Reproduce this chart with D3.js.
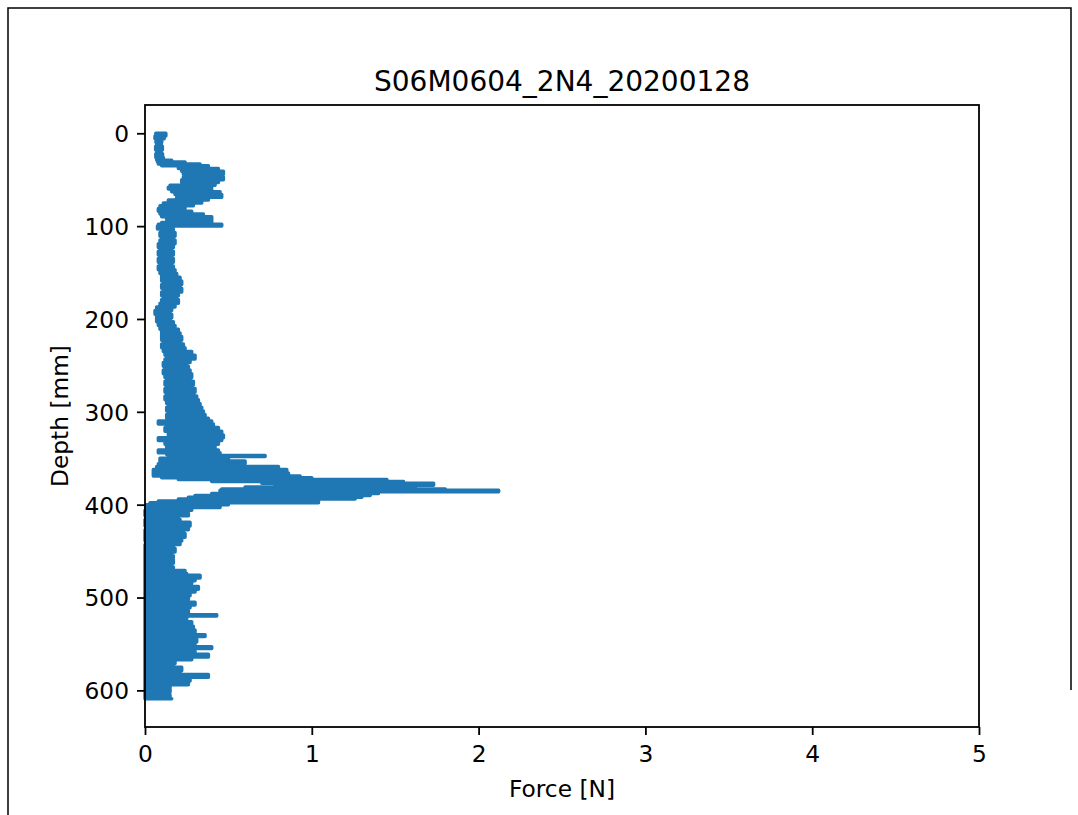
<!DOCTYPE html>
<html>
<head>
<meta charset="utf-8">
<script src="https://cdn.jsdelivr.net/npm/d3@7"></script>
<style>
  body { margin: 0; background: #fff; }
  text { font-family: "DejaVu Sans", sans-serif; fill: #000; }
</style>
</head>
<body>
<svg width="1078" height="815"></svg>
<script>
var title = "S06M0604_2N4_20200128";
var xTicks = [0, 1, 2, 3, 4, 5];
var yTicks = [0, 100, 200, 300, 400, 500, 600];

// force envelope: depth [mm], min and max force [N]
var depth = [
  0, 3, 6, 10, 14, 18, 22, 26, 29, 31, 33, 35, 38, 41, 44, 47, 50, 53, 56, 58,
  60, 63, 66, 69, 72, 75, 78, 81, 84, 87, 90, 93, 96, 98, 100,
  103, 107, 111, 115, 119, 123, 127, 131, 135, 139, 143, 147, 151, 155, 159, 163, 167, 171, 175, 179,
  183, 187, 191, 195, 199, 203, 207, 211, 215, 219, 223, 227, 231, 235, 239, 243, 247, 251, 255, 259,
  263, 267, 271, 275, 279, 283, 287, 291, 295, 299, 303, 307, 310, 313, 317, 321, 325, 328, 331, 335,
  339, 341, 344, 346, 347, 348, 350, 353, 356, 359, 362, 366, 369, 371, 373, 375, 377, 379, 381, 383,
  384.5, 386, 388, 390, 392, 394, 396, 398, 400,
  403, 406, 409, 412, 416, 419, 423, 427, 431, 435, 439, 443, 447, 451, 455, 457, 459, 463, 467, 469,
  471, 474, 476, 479, 482, 485, 488, 491, 494, 498, 502, 505, 508, 511, 514, 517, 518.5, 520, 523, 526,
  529, 531, 535, 538, 540, 542, 545, 548, 551, 553, 555, 558, 561, 564, 567, 571, 575, 579, 583, 586,
  590, 594, 598, 602, 605, 609
];
var forceMin = [
  0.065, 0.060, 0.066, 0.070, 0.064, 0.070, 0.065, 0.070, 0.075, 0.080, 0.100, 0.200, 0.220, 0.230, 0.240, 0.230, 0.220, 0.230, 0.150, 0.140,
  0.160, 0.180, 0.200, 0.190, 0.140, 0.110, 0.090, 0.080, 0.090, 0.100, 0.130, 0.140, 0.100, 0.080, 0.075,
  0.100, 0.090, 0.100, 0.090, 0.080, 0.090, 0.080, 0.090, 0.080, 0.090, 0.080, 0.090, 0.100, 0.100, 0.110, 0.100, 0.110, 0.100, 0.110, 0.100,
  0.090, 0.070, 0.060, 0.070, 0.070, 0.080, 0.090, 0.100, 0.100, 0.100, 0.110, 0.100, 0.110, 0.120, 0.130, 0.120, 0.110, 0.120, 0.110, 0.120,
  0.130, 0.120, 0.130, 0.120, 0.130, 0.120, 0.130, 0.140, 0.130, 0.140, 0.130, 0.140, 0.080, 0.130, 0.120, 0.140, 0.150, 0.080, 0.120, 0.130,
  0.140, 0.080, 0.130, 0.140, 0.140, 0.140, 0.090, 0.090, 0.080, 0.070, 0.050, 0.050, 0.100, 0.200, 0.400, 0.700, 0.780, 0.800, 0.600, 0.460,
  0.450, 0.450, 0.400, 0.300, 0.260, 0.200, 0.080, 0.030, 0.010,
  0.005, 0.000, 0.000, 0.005, 0.000, 0.000, 0.005, 0.000, 0.000, 0.000, 0.005, 0.000, 0.000, 0.000, 0.000, 0.000, 0.000, 0.000, 0.000, 0.000,
  0.000, 0.000, 0.000, 0.000, 0.000, 0.000, 0.000, 0.000, 0.000, 0.000, 0.000, 0.000, 0.000, 0.000, 0.000, 0.000, 0.000, 0.000, 0.000, 0.000,
  0.000, 0.000, 0.000, 0.000, 0.000, 0.000, 0.000, 0.000, 0.000, 0.000, 0.000, 0.000, 0.000, 0.000, 0.000, 0.000, 0.000, 0.000, 0.000, 0.000,
  0.000, 0.000, 0.000, 0.000, 0.000, 0.000
];
var forceMax = [
  0.125, 0.115, 0.100, 0.098, 0.104, 0.098, 0.105, 0.110, 0.160, 0.240, 0.330, 0.380, 0.440, 0.470, 0.455, 0.470, 0.440, 0.420, 0.400, 0.380,
  0.400, 0.450, 0.460, 0.380, 0.340, 0.290, 0.240, 0.220, 0.280, 0.350, 0.400, 0.400, 0.380, 0.460, 0.150,
  0.170, 0.180, 0.170, 0.180, 0.170, 0.160, 0.170, 0.160, 0.170, 0.160, 0.170, 0.180, 0.190, 0.210, 0.220, 0.210, 0.220, 0.200, 0.190, 0.200,
  0.180, 0.160, 0.150, 0.160, 0.150, 0.170, 0.180, 0.200, 0.210, 0.220, 0.210, 0.230, 0.240, 0.280, 0.300, 0.270, 0.250, 0.260, 0.270, 0.280,
  0.270, 0.290, 0.280, 0.300, 0.290, 0.310, 0.320, 0.330, 0.340, 0.350, 0.360, 0.380, 0.400, 0.410, 0.440, 0.460, 0.470, 0.460, 0.440, 0.420,
  0.420, 0.440, 0.450, 0.440, 0.720, 0.450, 0.500, 0.600, 0.560, 0.800, 0.850, 0.860, 0.930, 1.000, 1.450, 1.550, 1.730, 1.600, 1.620, 1.800,
  2.120, 1.400, 1.350, 1.300, 1.260, 1.000, 1.040, 0.500, 0.450,
  0.280, 0.220, 0.260, 0.200, 0.210, 0.270, 0.260, 0.230, 0.240, 0.220, 0.210, 0.170, 0.180, 0.160, 0.170, 0.100, 0.170, 0.160, 0.170, 0.120,
  0.240, 0.250, 0.330, 0.300, 0.280, 0.270, 0.320, 0.300, 0.270, 0.260, 0.220, 0.300, 0.270, 0.240, 0.260, 0.250, 0.430, 0.250, 0.240, 0.280,
  0.090, 0.290, 0.300, 0.280, 0.360, 0.300, 0.310, 0.290, 0.300, 0.400, 0.290, 0.300, 0.380, 0.280, 0.180, 0.170, 0.220, 0.210, 0.380, 0.270,
  0.260, 0.150, 0.150, 0.080, 0.150, 0.160
];

var svg = d3.select("svg");
var plotL = 145, plotR = 979, plotT = 105, plotB = 727;
var blue = "#1f77b4";

// outer frame
svg.append("path")
   .attr("d", "M8,815 L8,8 L1071,8 L1071,690")
   .attr("fill", "none")
   .attr("stroke", "#000")
   .attr("stroke-width", 1.5);

var x = d3.scaleLinear().domain([0, 5]).range([plotL, plotR]);
var y = d3.scaleLinear().domain([-30.45, 639.45]).range([plotT, plotB]);

var rows = depth.map(function(d, i) {
  return { depth: d, lo: forceMin[i], hi: forceMax[i] };
});

// vertical profile: hold each value down to the next depth
var band = d3.area()
  .curve(d3.curveStepBefore)
  .y(function(d) { return y(d.depth); })
  .x0(function(d) { return x(d.lo); })
  .x1(function(d) { return x(d.hi); });

svg.append("path")
   .datum(rows)
   .attr("d", band)
   .attr("fill", blue)
   .attr("stroke", blue)
   .attr("stroke-width", 3.5)
   .attr("stroke-linejoin", "round");

// axes
var xAxis = d3.axisBottom(x).tickValues(xTicks).tickSize(8).tickPadding(8)
  .tickFormat(d3.format("d"));
var yAxis = d3.axisLeft(y).tickValues(yTicks).tickSize(8).tickPadding(8)
  .tickFormat(d3.format("d"));

var gx = svg.append("g").attr("transform", "translate(0," + plotB + ")").call(xAxis);
var gy = svg.append("g").attr("transform", "translate(" + plotL + ",0)").call(yAxis);

[gx, gy].forEach(function(g) {
  g.select(".domain").remove();
  g.selectAll(".tick line").attr("stroke", "#000").attr("stroke-width", 1.8);
  g.selectAll(".tick text").attr("font-size", 23.3).attr("fill", "#000")
   .style("font-family", "DejaVu Sans");
});
gx.selectAll(".tick text").attr("dy", null).attr("y", 35);
gy.selectAll(".tick text").attr("dy", "0.36em");

svg.append("rect")
   .attr("x", plotL).attr("y", plotT)
   .attr("width", plotR - plotL).attr("height", plotB - plotT)
   .attr("fill", "none")
   .attr("stroke", "#000")
   .attr("stroke-width", 1.8);

svg.append("text")
   .attr("x", (plotL + plotR) / 2).attr("y", 91)
   .attr("text-anchor", "middle")
   .attr("font-size", 28)
   .text(title);

svg.append("text")
   .attr("x", (plotL + plotR) / 2).attr("y", 797)
   .attr("text-anchor", "middle")
   .attr("font-size", 23.3)
   .text("Force [N]");

svg.append("text")
   .attr("transform", "translate(68," + (plotT + plotB) / 2 + ") rotate(-90)")
   .attr("text-anchor", "middle")
   .attr("font-size", 23.3)
   .text("Depth [mm]");
</script>
</body>
</html>
